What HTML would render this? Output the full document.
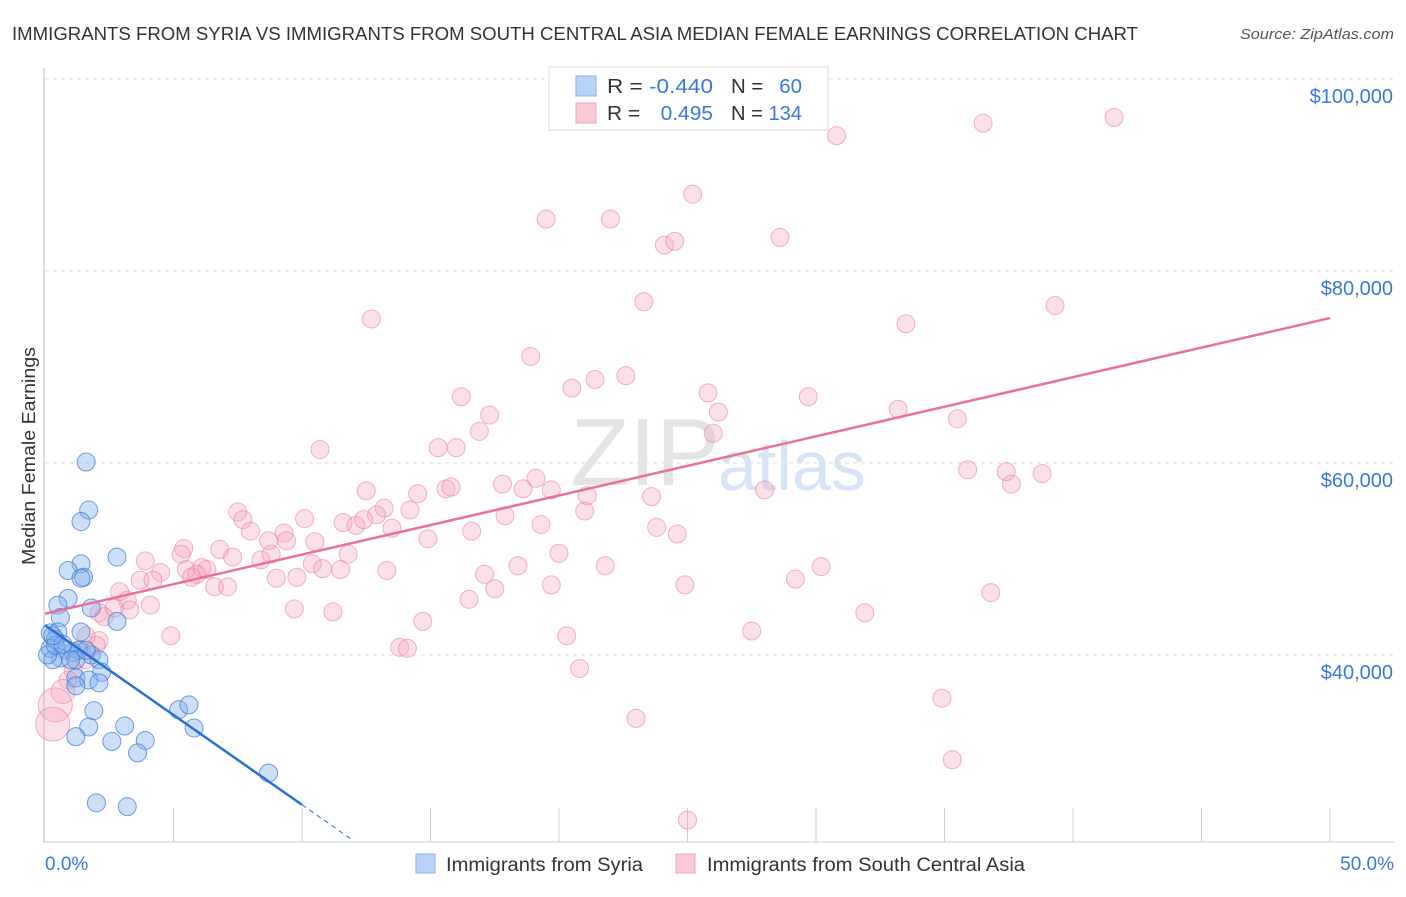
<!DOCTYPE html>
<html><head><meta charset="utf-8"><style>
body{margin:0;background:#fff;font-family:"Liberation Sans",sans-serif;}
svg text{font-family:"Liberation Sans",sans-serif;}
</style></head><body>
<svg width="1406" height="892" xmlns="http://www.w3.org/2000/svg">
<text x="12" y="40" font-size="18" fill="#333" textLength="1126" lengthAdjust="spacingAndGlyphs">IMMIGRANTS FROM SYRIA VS IMMIGRANTS FROM SOUTH CENTRAL ASIA MEDIAN FEMALE EARNINGS CORRELATION CHART</text>
<text x="1240" y="39" font-size="15" fill="#555" font-style="italic" textLength="154" lengthAdjust="spacingAndGlyphs">Source: ZipAtlas.com</text>
<g id="grid"></g>
<text x="720" y="485" font-size="96" font-family="Liberation Serif" fill="#e4e4e4" text-anchor="end">ZIP</text>
<text x="718" y="490" font-size="70" fill="#d6e4f5">atlas</text>
<line x1="44" y1="68" x2="44" y2="842" stroke="#bbb"/>
<line x1="44" y1="842" x2="1394" y2="842" stroke="#ccc"/>
<g id="pts"></g>
<g id="trend"></g>
<text x="35" y="565" font-size="18" fill="#333" textLength="218" lengthAdjust="spacingAndGlyphs" transform="rotate(-90 35 565)">Median Female Earnings</text>
<text x="45" y="870" font-size="19" fill="#3b78d8">0.0%</text>
<text x="1394" y="870" font-size="19" fill="#3b78d8" text-anchor="end">50.0%</text>
<g>
<rect x="549" y="67" width="279" height="63" fill="#fff" stroke="#ddd"/>
<rect x="576" y="76" width="20" height="20" fill="#b8d3f5" stroke="#8ab4ea"/>
<rect x="576" y="103" width="20" height="20" fill="#f9c9d6" stroke="#f0a5bb"/>
<text x="607" y="93" font-size="20" fill="#333" textLength="106" lengthAdjust="spacingAndGlyphs">R = <tspan fill="#3b78d8">-0.440</tspan></text>
<text x="731" y="93" font-size="20" fill="#333" textLength="71" lengthAdjust="spacingAndGlyphs">N = <tspan fill="#3b78d8" dx="10">60</tspan></text>
<text x="607" y="120" font-size="20" fill="#333" textLength="106" lengthAdjust="spacingAndGlyphs">R = <tspan fill="#3b78d8" dx="14">0.495</tspan></text>
<text x="731" y="120" font-size="20" fill="#333" textLength="71" lengthAdjust="spacingAndGlyphs">N = <tspan fill="#3b78d8">134</tspan></text>
</g>
<g>
<rect x="416" y="854" width="19" height="19" fill="#b8d3f5" stroke="#8ab4ea"/>
<text x="446" y="871" font-size="19" fill="#333" textLength="197" lengthAdjust="spacingAndGlyphs">Immigrants from Syria</text>
<rect x="676" y="854" width="19" height="19" fill="#f9c9d6" stroke="#f0a5bb"/>
<text x="707" y="871" font-size="19" fill="#333" textLength="318" lengthAdjust="spacingAndGlyphs">Immigrants from South Central Asia</text>
</g>
</svg>
<script>
const yTicks=[100000,80000,60000,40000];
const yTickLabels=["$100,000","$80,000","$60,000","$40,000"];
const xTicks=[5,10,15,20,25,30,35,40,45,50];
const syriaX=[1.6,1.7,1.4,2.8,1.4,0.9,1.5,1.4,0.9,0.5,1.8,2.8,0.6,0.2,0.5,1.4,0.4,0.2,0.8,1.1,1.3,1.8,2.1,0.6,0.3,1.2,2.2,1.2,1.7,2.1,1.2,1.9,5.2,5.6,1.7,3.1,1.2,2.6,3.9,3.6,5.8,8.7,2.0,3.2,0.1,0.4,0.7,1.0,1.6,0.3];
const syriaY=[60.1,55.1,53.9,50.2,49.5,48.8,48.1,48.0,45.9,45.2,44.9,43.5,43.9,42.3,42.4,42.4,41.6,40.7,40.5,40.3,40.5,40.0,39.5,39.7,39.5,39.5,38.2,37.6,37.4,37.1,36.8,34.2,34.3,34.8,32.5,32.6,31.5,31.0,31.1,29.8,32.4,27.7,24.6,24.2,40.0,41.0,41.1,39.5,40.5,42.0];
const scaX=[30.8,36.5,41.6,25.2,19.5,22.0,24.1,24.5,28.6,23.3,12.7,33.5,39.3,18.9,21.4,20.5,22.6,16.2,25.8,29.7,17.3,26.2,33.2,16.9,26.0,35.5,10.7,15.3,16.0,35.9,37.4,37.6,38.8,17.8,19.1,15.6,15.8,12.5,14.5,18.6,19.7,21.1,23.6,28.0,13.2,14.2,21.0,7.5,12.9,17.9,10.1,11.6,12.1,12.4,13.5,7.7,16.6,19.3,23.8,24.6,8.0,9.3,8.7,9.4,10.5,14.9,5.4,6.8,5.3,8.8,7.3,11.8,20.0,3.9,8.4,10.4,18.4,21.8,30.2,4.5,5.5,6.1,6.3,5.9,10.8,11.5,13.3,17.1,3.7,4.2,5.7,9.0,9.8,29.2,6.6,7.1,17.5,19.7,24.9,36.8,2.9,3.2,4.1,3.3,2.7,2.1,2.3,16.5,9.7,11.2,14.7,31.9,4.9,1.6,27.5,20.3,2.1,13.8,14.1,2.0,1.4,1.6,1.1,20.8,0.9,0.7,0.4,34.9,23.0,35.3,25.0,0.3];
const scaY=[94.1,95.4,96.0,88.0,85.4,85.4,82.7,83.1,83.5,76.8,75.0,74.5,76.4,71.1,68.7,67.8,69.1,66.9,67.3,66.9,65.0,65.3,65.6,63.3,63.1,64.6,61.4,61.6,61.6,59.3,59.1,57.8,58.9,57.8,58.4,57.3,57.5,57.1,56.8,57.3,57.2,56.6,56.5,57.2,55.3,55.1,55.0,54.9,54.6,54.5,54.2,53.8,53.5,54.1,53.2,54.1,52.9,53.6,53.3,52.6,52.9,52.7,51.9,51.9,51.8,52.1,51.1,51.0,50.5,50.5,50.2,50.5,50.6,49.8,49.9,49.5,49.3,49.3,49.2,48.6,48.9,49.1,48.9,48.4,49.0,48.9,48.8,48.4,47.8,47.8,48.1,48.0,48.1,47.9,47.1,47.1,46.9,47.3,47.3,46.5,46.6,45.7,45.2,44.7,44.9,44.4,44.0,45.8,44.8,44.5,43.5,44.4,42.0,42.0,42.5,42.0,41.5,40.8,40.7,41.0,40.5,39.5,38.4,38.6,37.4,36.2,34.8,35.5,33.4,29.1,22.8,32.8];
const sx=x=>45+x*25.7;
const sy=v=>79+(100-v)*9.6;
const NS="http://www.w3.org/2000/svg";
function mk(t,a,p){const e=document.createElementNS(NS,t);for(const k in a)e.setAttribute(k,a[k]);p.appendChild(e);return e;}
const syriaTrend=[43.1,-1.87,10,11.9];
const scaTrend=[44.3,75.1];
const grid=document.getElementById('grid');
yTicks.forEach((v,i)=>{
 const l=mk('line',{x1:45,x2:1394,y1:sy(v/1000),y2:sy(v/1000),stroke:'#ddd','stroke-dasharray':'4,4'},grid);
 
 
 const t=mk('text',{x:1393,y:sy(v/1000)+24,'font-size':20,fill:'#3b78d8','text-anchor':'end'},grid);
 t.textContent=yTickLabels[i];
 
 
});
xTicks.forEach(x=>{
 const l=mk('line',{x1:sx(x),x2:sx(x),y1:808,y2:842,stroke:'#ccc'},grid);
 
 
});
const pts=document.getElementById('pts');
scaX.forEach((x,i)=>{
 const big=(x<=0.45&&scaY[i]<36)?17:(x<=0.75&&scaY[i]<37?12:9);
 const c=mk('circle',{cx:sx(x),cy:sy(scaY[i]),r:big,fill:'rgba(245,160,185,0.33)',stroke:'rgba(232,120,155,0.55)','stroke-width':1},pts);
 
 
});
syriaX.forEach((x,i)=>{
 const c=mk('circle',{cx:sx(x),cy:sy(syriaY[i]),r:9,fill:'rgba(130,175,235,0.4)',stroke:'rgba(50,120,215,0.7)','stroke-width':1},pts);
 
 
});
const tr=document.getElementById('trend');
const st=x=>syriaTrend[0]+syriaTrend[1]*x;
let l1=mk('line',{x1:sx(0),y1:sy(st(0)),x2:sx(syriaTrend[2]),y2:sy(st(syriaTrend[2])),stroke:'#2a6fd6','stroke-width':2.5},tr);


let l2=mk('line',{x1:sx(syriaTrend[2]),y1:sy(st(syriaTrend[2])),x2:sx(syriaTrend[3]),y2:sy(st(syriaTrend[3])),stroke:'#2a6fd6','stroke-width':1,'stroke-dasharray':'5,4'},tr);


let l3=mk('line',{x1:sx(0),y1:sy(scaTrend[0]),x2:sx(50),y2:sy(scaTrend[1]),stroke:'#e8709a','stroke-width':2.5},tr);


</script>
</body></html>
